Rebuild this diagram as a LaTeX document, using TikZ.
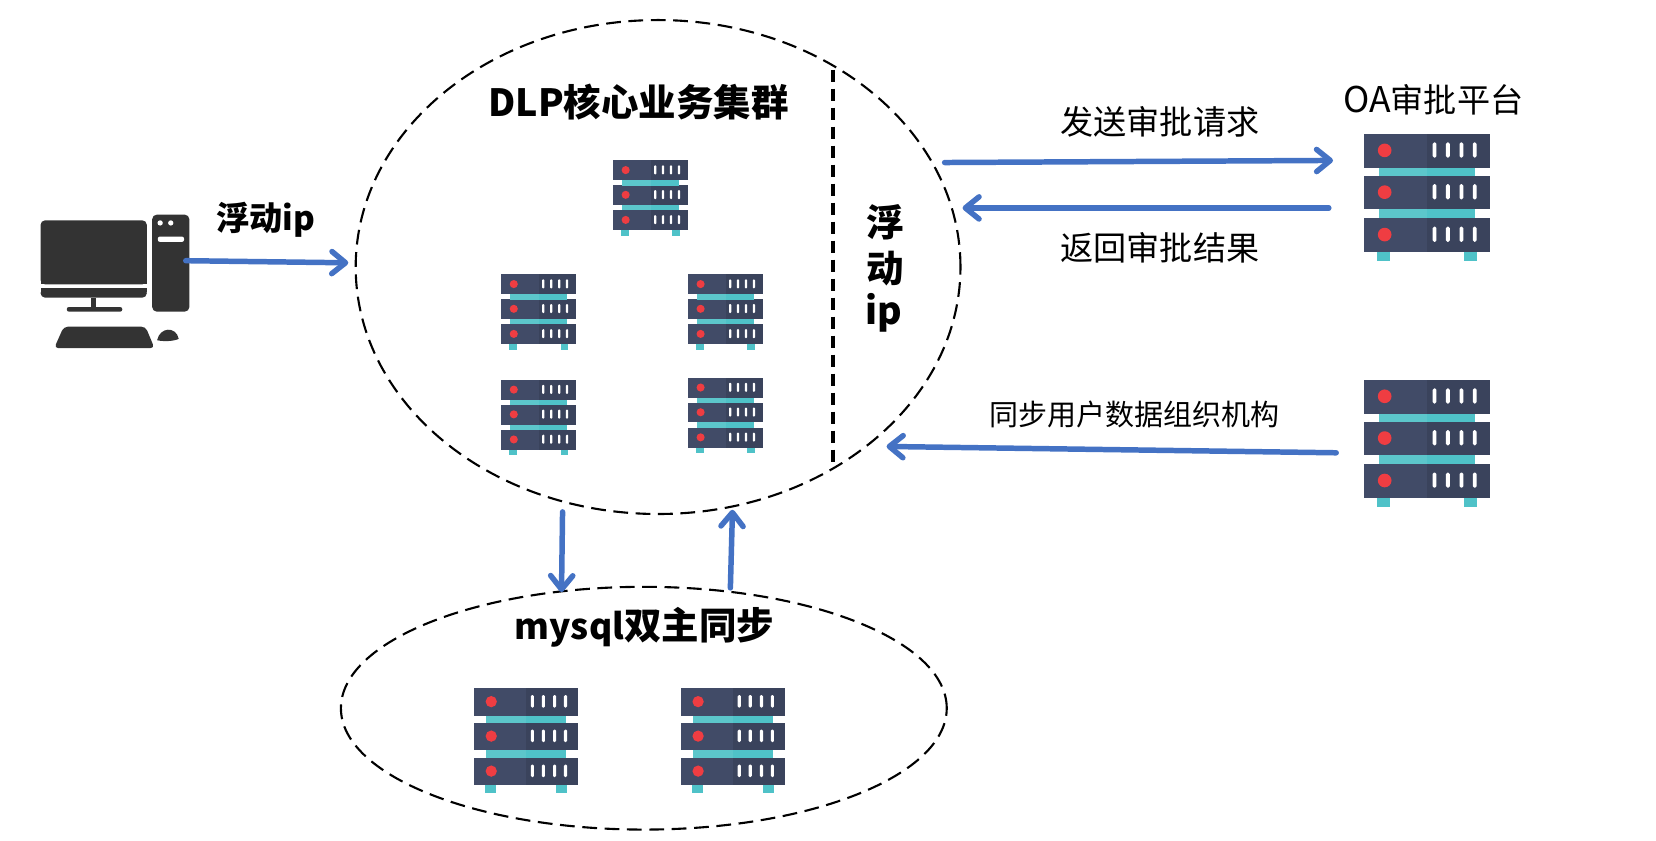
\documentclass[tikz,border=0pt]{standalone}
\usepackage{fontspec}
\setmainfont{Noto Sans CJK SC}
\usetikzlibrary{arrows.meta,shapes.geometric}
\definecolor{srvL}{HTML}{414B67}
\definecolor{srvR}{HTML}{3A435C}
\definecolor{tealL}{HTML}{5CC6CB}
\definecolor{tealR}{HTML}{4FC2C8}
\definecolor{srvRed}{HTML}{EF3D42}
\definecolor{pcGray}{HTML}{333333}
\definecolor{flowBlue}{HTML}{4472C4}
\tikzset{
  cluster/.style={draw=black,ellipse,dashed,line width=1pt,dash pattern=on 7pt off 3.6pt,inner sep=0pt,fill=none},
  flow/.style={draw=flowBlue,line width=2.6pt,line cap=round,-{Straight Barb[length=6.5pt,width=10.5pt,round]}},
  plain/.style={font=\fontsize{15.7pt}{18pt}\selectfont,inner sep=0pt},
  small/.style={font=\fontsize{13.75pt}{16pt}\selectfont,inner sep=0pt},
  heavy/.style={font=\fontsize{17.75pt}{20pt}\selectfont\bfseries,inner sep=0pt},
  heavysm/.style={font=\fontsize{15.7pt}{18pt}\selectfont\bfseries,inner sep=0pt},
  pcpart/.style={fill=pcGray,draw=none},
  pcwhite/.style={fill=white,draw=none},
  pics/srv/.style={code={
    \foreach \oy in {0,0.33,0.665}{
      \fill[srvL] (0,\oy) rectangle (0.5,\oy+0.265);
      \fill[srvR] (0.5,\oy) rectangle (1,\oy+0.265);
      \fill[srvRed] (0.166,\oy+0.129) circle[radius=0.054];
      \foreach \bx in {0.56,0.665,0.772,0.877}{
        \fill[white,rounded corners=\sw*0.006pt] (\bx-0.015,\oy+0.066) rectangle (\bx+0.015,\oy+0.186);
      }
    }
    \foreach \oy in {0.265,0.595}{
      \fill[tealL] (0.118,\oy) rectangle (0.5,\oy+0.07);
      \fill[tealR] (0.5,\oy) rectangle (0.882,\oy+0.07);
    }
    \fill[tealR] (0.105,0.93) rectangle (0.21,1.005);
    \fill[tealR] (0.79,0.93) rectangle (0.895,1.005);
  }},
}
\begin{document}
\begin{tikzpicture}[x=0.5pt,y=-0.5pt]
\useasboundingbox (0,0) rectangle (1569,795.9);
% clusters
\node[cluster,minimum width=286.5pt,minimum height=234pt] (core) at (623.5,253) {};
\node[cluster,minimum width=287pt,minimum height=115pt] (db) at (610,671) {};
\coordinate (sepA) at (789,66);
\coordinate (sepB) at (789,440);
\draw[line width=1.8pt,dash pattern=on 6pt off 3pt] (sepA) -- (sepB);
% servers
\foreach \nm/\sx/\sy/\sw in {s1/581/152/71,s2/475/260/71,s3/652/260/71,s4/475/360/71,s5/652/358/71,oa/1292/127/120,sync/1292/360/120,m1/449/652/99,m2/645/652/99}{
  \begin{scope}[shift={(\sx,\sy)},x=\sw*0.5pt,y=-\sw*0.5pt]
    \pic (\nm) {srv};
  \end{scope}
}
% computer
\begin{scope}[shift={(0,170)},x=0.1574pt,y=-0.1574pt]
  \fill[pcpart,rounded corners=2.2pt] (122,316) -- (122,123) -- (442,123) -- (442,316) -- cycle;
  \fill[pcpart] (122,316) rectangle (442,300);
  \fill[pcpart,rounded corners=2.2pt] (122,328) -- (122,356) -- (442,356) -- (442,328) -- cycle;
  \fill[pcpart] (122,328) rectangle (442,340);
  \fill[pcpart] (275,356) rectangle (289,386);
  \fill[pcpart,rounded corners=1pt] (201,384) rectangle (368,398);
  \fill[pcpart,rounded corners=2.2pt] (458,106) rectangle (570,398);
  \fill[pcwhite] (482,131) circle[radius=8];
  \fill[pcwhite] (514,131) circle[radius=8];
  \fill[pcwhite,rounded corners=1pt] (475,172) rectangle (554,188);
  \fill[pcpart,rounded corners=2pt] (192,443) -- (438,443) -- (465,508) -- (163,508) -- cycle;
  \fill[pcpart] (473,484) .. controls (480,445) and (530,440) .. (538,480) .. controls (520,488) and (490,488) .. (473,484) -- cycle;
\end{scope}
% connectors
\coordinate (pcOut) at (176,247);
\coordinate (coreIn) at (330,249);
\coordinate (reqFrom) at (895,154);
\coordinate (reqTo) at (1263,152);
\coordinate (retFrom) at (1259,197);
\coordinate (retTo) at (912,197);
\coordinate (syncFrom) at (1266,429);
\coordinate (syncTo) at (840,423);
\coordinate (dbDownFrom) at (533,485);
\coordinate (dbDownTo) at (532,561);
\coordinate (dbUpFrom) at (692,557);
\coordinate (dbUpTo) at (694,483);
\draw[flow] (pcOut) -- (coreIn);
\draw[flow] (reqFrom) -- (reqTo);
\draw[flow] (retFrom) -- (retTo);
\draw[flow] (syncFrom) -- (syncTo);
\draw[flow] (dbDownFrom) -- (dbDownTo);
\draw[flow] (dbUpFrom) -- (dbUpTo);
% labels
\node[heavy] (tCore) at (605,97) {DLP核心业务集群};
\node[heavysm] (tFloat) at (252,208) {浮动ip};
\node[heavy] (tV1) at (839,211) {浮};
\node[heavy] (tV2) at (839,254) {动};
\node[heavy] (tV3) at (837,296) {ip};
\node[plain] (tReq) at (1099,115) {发送审批请求};
\node[plain] (tRet) at (1099,235) {返回审批结果};
\node[plain] (tOA) at (1358,95) {{\fontsize{16.8pt}{18pt}\selectfont OA}审批平台};
\node[small] (tSync) at (1075,393) {同步用户数据组织机构};
\node[heavy] (tDb) at (610.5,594) {{\fontsize{16.8pt}{20pt}\selectfont mysql}双主同步};
\end{tikzpicture}
\end{document}
